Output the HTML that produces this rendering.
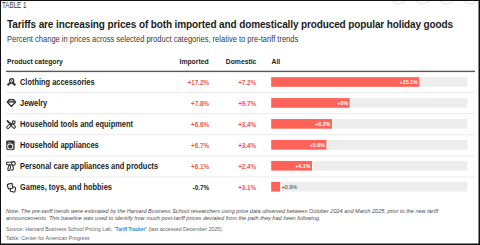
<!DOCTYPE html>
<html><head><meta charset="utf-8">
<style>
html,body{margin:0;padding:0;background:#fff;}
body{width:480px;height:245px;position:relative;overflow:hidden;font-family:"Liberation Sans",sans-serif;color:#1a1a1a;}
.a{position:absolute;white-space:nowrap;line-height:1;}
.tag{left:1.6px;top:2.0px;font-size:8.2px;color:#333;transform:scaleX(0.76);transform-origin:0 0;}
.title{left:7px;top:20px;font-size:10px;letter-spacing:-0.118px;font-weight:bold;color:#1c1c1c;}
.sub{left:7px;top:36px;font-size:8.2px;color:#383838;transform:scaleX(0.92);transform-origin:0 0;}
.hd{top:58.6px;font-size:6.8px;font-weight:bold;color:#222;}
.cat{left:20.4px;font-size:8.2px;font-weight:bold;color:#1c1c1c;transform:scaleX(0.906);transform-origin:0 0;}
.num{font-size:6.3px;font-weight:bold;color:#f2554c;}
.bl{position:absolute;font-size:5.3px;font-weight:bold;color:#fff;line-height:1;white-space:nowrap;}
.icon{position:absolute;left:6px;width:11px;height:11px;overflow:visible;}
.note{left:6px;font-size:5.55px;font-style:italic;color:#4a4a4a;}
.src{left:6px;font-size:5.2px;color:#666;}
</style></head><body>
<svg style="position:absolute;left:0;top:0" width="480" height="245" viewBox="0 0 480 245"><rect x="6" y="70.7" width="469" height="1.4" fill="#5a5a5a"/><rect x="271.2" y="77.15" width="196.1" height="9.65" fill="#ededed"/><rect x="271.2" y="77.15" width="149.11" height="9.65" fill="#fff"/><rect x="271.2" y="77.15" width="148.11" height="9.65" fill="#ff6257"/><rect x="6" y="92.00" width="469" height="1" fill="#ececec"/><rect x="271.2" y="98.10" width="196.1" height="9.65" fill="#ededed"/><rect x="271.2" y="98.10" width="79.49" height="9.65" fill="#fff"/><rect x="271.2" y="98.10" width="78.49" height="9.65" fill="#ff6257"/><rect x="6" y="113.10" width="469" height="1" fill="#ececec"/><rect x="271.2" y="119.05" width="196.1" height="9.65" fill="#ededed"/><rect x="271.2" y="119.05" width="61.84" height="9.65" fill="#fff"/><rect x="271.2" y="119.05" width="60.84" height="9.65" fill="#ff6257"/><rect x="6" y="134.20" width="469" height="1" fill="#ececec"/><rect x="271.2" y="140.00" width="196.1" height="9.65" fill="#ededed"/><rect x="271.2" y="140.00" width="56.21" height="9.65" fill="#fff"/><rect x="271.2" y="140.00" width="55.21" height="9.65" fill="#ff6257"/><rect x="6" y="155.30" width="469" height="1" fill="#ececec"/><rect x="271.2" y="160.95" width="196.1" height="9.65" fill="#ededed"/><rect x="271.2" y="160.95" width="41.80" height="9.65" fill="#fff"/><rect x="271.2" y="160.95" width="40.80" height="9.65" fill="#ff6257"/><rect x="6" y="176.40" width="469" height="1" fill="#ececec"/><rect x="271.2" y="181.90" width="196.1" height="9.65" fill="#ededed"/><rect x="271.2" y="181.90" width="9.92" height="9.65" fill="#fff"/><rect x="271.2" y="181.90" width="8.92" height="9.65" fill="#ff6257"/></svg>
<svg style="position:absolute;left:380px;top:0;width:100px;height:12px" viewBox="0 0 100 12"><circle cx="19.0" cy="-4.6" r="8.4" fill="#fff" stroke="#e3e3e3" stroke-width="1.1"/><circle cx="42.7" cy="-4.6" r="8.4" fill="#fff" stroke="#e3e3e3" stroke-width="1.1"/><circle cx="66.2" cy="-4.6" r="8.4" fill="#fff" stroke="#e3e3e3" stroke-width="1.1"/><circle cx="90.0" cy="-4.6" r="8.4" fill="#fff" stroke="#e3e3e3" stroke-width="1.1"/></svg>
<div class="a tag">TABLE 1</div>
<div class="a title">Tariffs are increasing prices of both imported and domestically produced popular holiday goods</div>
<div class="a sub">Percent change in prices across selected product categories, relative to pre-tariff trends</div>
<div class="a hd" style="left:7px">Product category</div>
<div class="a hd" style="left:179.5px">Imported</div>
<div class="a hd" style="left:225.8px">Domestic</div>
<div class="a hd" style="left:271.5px">All</div>
<svg class="icon" style="top:77.15px" viewBox="0 0 11 11" width="11" height="11"><ellipse cx="5.65" cy="3.85" rx="2.05" ry="2.25" fill="none" stroke="#2a2a2a" stroke-width="1.15"/><path d="M5.0 3.0 L6.7 5.2" stroke="#2a2a2a" stroke-width="0.85"/><path d="M1.5 8.2 L4.4 5.7 M9.4 8.2 L6.5 5.7" stroke="#2a2a2a" stroke-width="1.9"/></svg>
<div class="a cat" style="top:78.90px">Clothing accessories</div>
<div class="a num" style="top:80.20px;right:271.00px;">+17.2%</div>
<div class="a num" style="top:80.20px;right:223.80px">+7.2%</div>
<div class="a bl" style="right:62.29px;top:79.95px">+15.1%</div>
<svg class="icon" style="top:98.40px" viewBox="0 0 11 11" width="11" height="11"><path d="M3.1 1.6 H7.7 L9.6 4.0 L5.4 8.5 L1.2 4.0 Z" fill="none" stroke="#2a2a2a" stroke-width="1.15" stroke-linejoin="round"/><path d="M1.4 3.9 H9.4" stroke="#2a2a2a" stroke-width="1.3"/><path d="M3.4 2.2 L4.6 3.6 M7.4 2.2 L6.2 3.6" stroke="#2a2a2a" stroke-width="0.7"/></svg>
<div class="a cat" style="top:99.85px">Jewelry</div>
<div class="a num" style="top:101.15px;right:271.00px;">+7.8%</div>
<div class="a num" style="top:101.15px;right:223.80px">+9.7%</div>
<div class="a bl" style="right:131.91px;top:100.90px">+8%</div>
<svg class="icon" style="top:119.05px" viewBox="0 0 11 11" width="11" height="11"><path d="M1.4 1.9 L5.0 5.3" stroke="#2a2a2a" stroke-width="1.7" stroke-linecap="round"/><rect x="-2.4" y="-1.2" width="4.8" height="2.4" rx="1.1" transform="translate(2.8 7.5) rotate(-45)" fill="#fff" stroke="#2a2a2a" stroke-width="1.0"/><path d="M4.3 6.0 L6.4 4.1" stroke="#2a2a2a" stroke-width="1.2"/><rect x="-2.3" y="-1.25" width="4.6" height="2.5" rx="1.1" transform="translate(7.4 7.1) rotate(45)" fill="#fff" stroke="#2a2a2a" stroke-width="1.0"/><circle cx="7.7" cy="3.3" r="1.45" fill="#fff" stroke="#2a2a2a" stroke-width="1.1"/></svg>
<div class="a cat" style="top:120.80px">Household tools and equipment</div>
<div class="a num" style="top:122.10px;right:271.00px;">+6.6%</div>
<div class="a num" style="top:122.10px;right:223.80px">+3.4%</div>
<div class="a bl" style="right:149.56px;top:121.85px">+6.2%</div>
<svg class="icon" style="top:140.00px" viewBox="0 0 11 11" width="11" height="11"><rect x="0.75" y="0.95" width="7.4" height="8.7" rx="0.8" fill="#8a8a8a" stroke="#333" stroke-width="1.0"/><rect x="0.75" y="0.95" width="7.4" height="2.6" fill="#333"/><circle cx="2.3" cy="2.2" r="0.5" fill="#ddd"/><circle cx="4.0" cy="2.2" r="0.5" fill="#ddd"/><circle cx="4.2" cy="6.4" r="2.9" fill="#f2f2f2"/><circle cx="4.2" cy="6.4" r="2.0" fill="#222"/><circle cx="4.2" cy="6.0" r="0.6" fill="#777"/></svg>
<div class="a cat" style="top:141.75px">Household appliances</div>
<div class="a num" style="top:143.05px;right:271.00px;">+6.7%</div>
<div class="a num" style="top:143.05px;right:223.80px">+3.4%</div>
<div class="a bl" style="right:155.19px;top:142.80px">+5.6%</div>
<svg class="icon" style="top:160.95px" viewBox="0 0 11 11" width="11" height="11"><rect x="0.55" y="1.3" width="6.2" height="2.5" rx="0.7" fill="#fff" stroke="#2a2a2a" stroke-width="1.1"/><circle cx="7.45" cy="2.5" r="1.85" fill="#fff" stroke="#2a2a2a" stroke-width="1.1"/><rect x="-1.1" y="-2.5" width="2.2" height="5.0" rx="1.0" transform="translate(3.2 7.0) rotate(12)" fill="#fff" stroke="#2a2a2a" stroke-width="1.05"/><path d="M6.6 4.6 Q7.9 7.0 7.1 8.6 Q6.4 9.6 5.7 8.8" fill="none" stroke="#2a2a2a" stroke-width="1.05" stroke-linecap="round"/></svg>
<div class="a cat" style="top:162.70px">Personal care appliances and products</div>
<div class="a num" style="top:164.00px;right:271.00px;">+6.1%</div>
<div class="a num" style="top:164.00px;right:223.80px">+2.4%</div>
<div class="a bl" style="right:169.60px;top:163.75px">+4.1%</div>
<svg class="icon" style="top:181.90px" viewBox="0 0 11 11" width="11" height="11"><rect x="-2.4" y="-2.4" width="4.8" height="4.8" rx="1.0" transform="translate(6.9 7.4) rotate(12)" fill="#fff" stroke="#2a2a2a" stroke-width="1.05"/><rect x="-2.45" y="-2.45" width="4.9" height="4.9" rx="1.0" transform="translate(4.15 4.2) rotate(-14)" fill="#fff" stroke="#2a2a2a" stroke-width="1.15"/><circle cx="4.15" cy="4.2" r="0.6" fill="#999"/></svg>
<div class="a cat" style="top:183.65px">Games, toys, and hobbies</div>
<div class="a num" style="top:184.95px;right:271.00px;color:#1c1c1c;font-weight:bold;">-0.7%</div>
<div class="a num" style="top:184.95px;right:223.80px">+3.1%</div>
<div class="a bl" style="left:281.72px;top:184.70px;color:#333;font-weight:normal">+0.9%</div>
<div class="a note" style="top:208.8px">Note: The pre-tariff trends were estimated by the Harvard Business School researchers using price data observed between October 2024 and March 2025, prior to the new tariff</div>
<div class="a note" style="top:216.4px;letter-spacing:0.026px">announcements. This baseline was used to identify how much post-tariff prices deviated from the path they had been following.</div>
<div class="a src" style="top:226.8px">Source: Harvard Business School Pricing Lab, <span style="color:#1a8fd0">“<b style="letter-spacing:-0.2px;font-weight:bold;color:#3596d8">Tariff Tracker</b></span>” (last accessed December 2025).</div>
<div class="a src" style="top:235.6px">Table: Center for American Progress</div>
<svg style="position:absolute;left:0;top:0;z-index:5" width="480" height="245" viewBox="0 0 480 245"><rect x="0" y="0" width="480" height="1" fill="#111"/><rect x="0" y="0" width="1" height="245" fill="#111"/><rect x="478.5" y="0" width="1.5" height="245" fill="#111"/><rect x="0" y="243.5" width="480" height="1.5" fill="#111"/></svg>
</body></html>
